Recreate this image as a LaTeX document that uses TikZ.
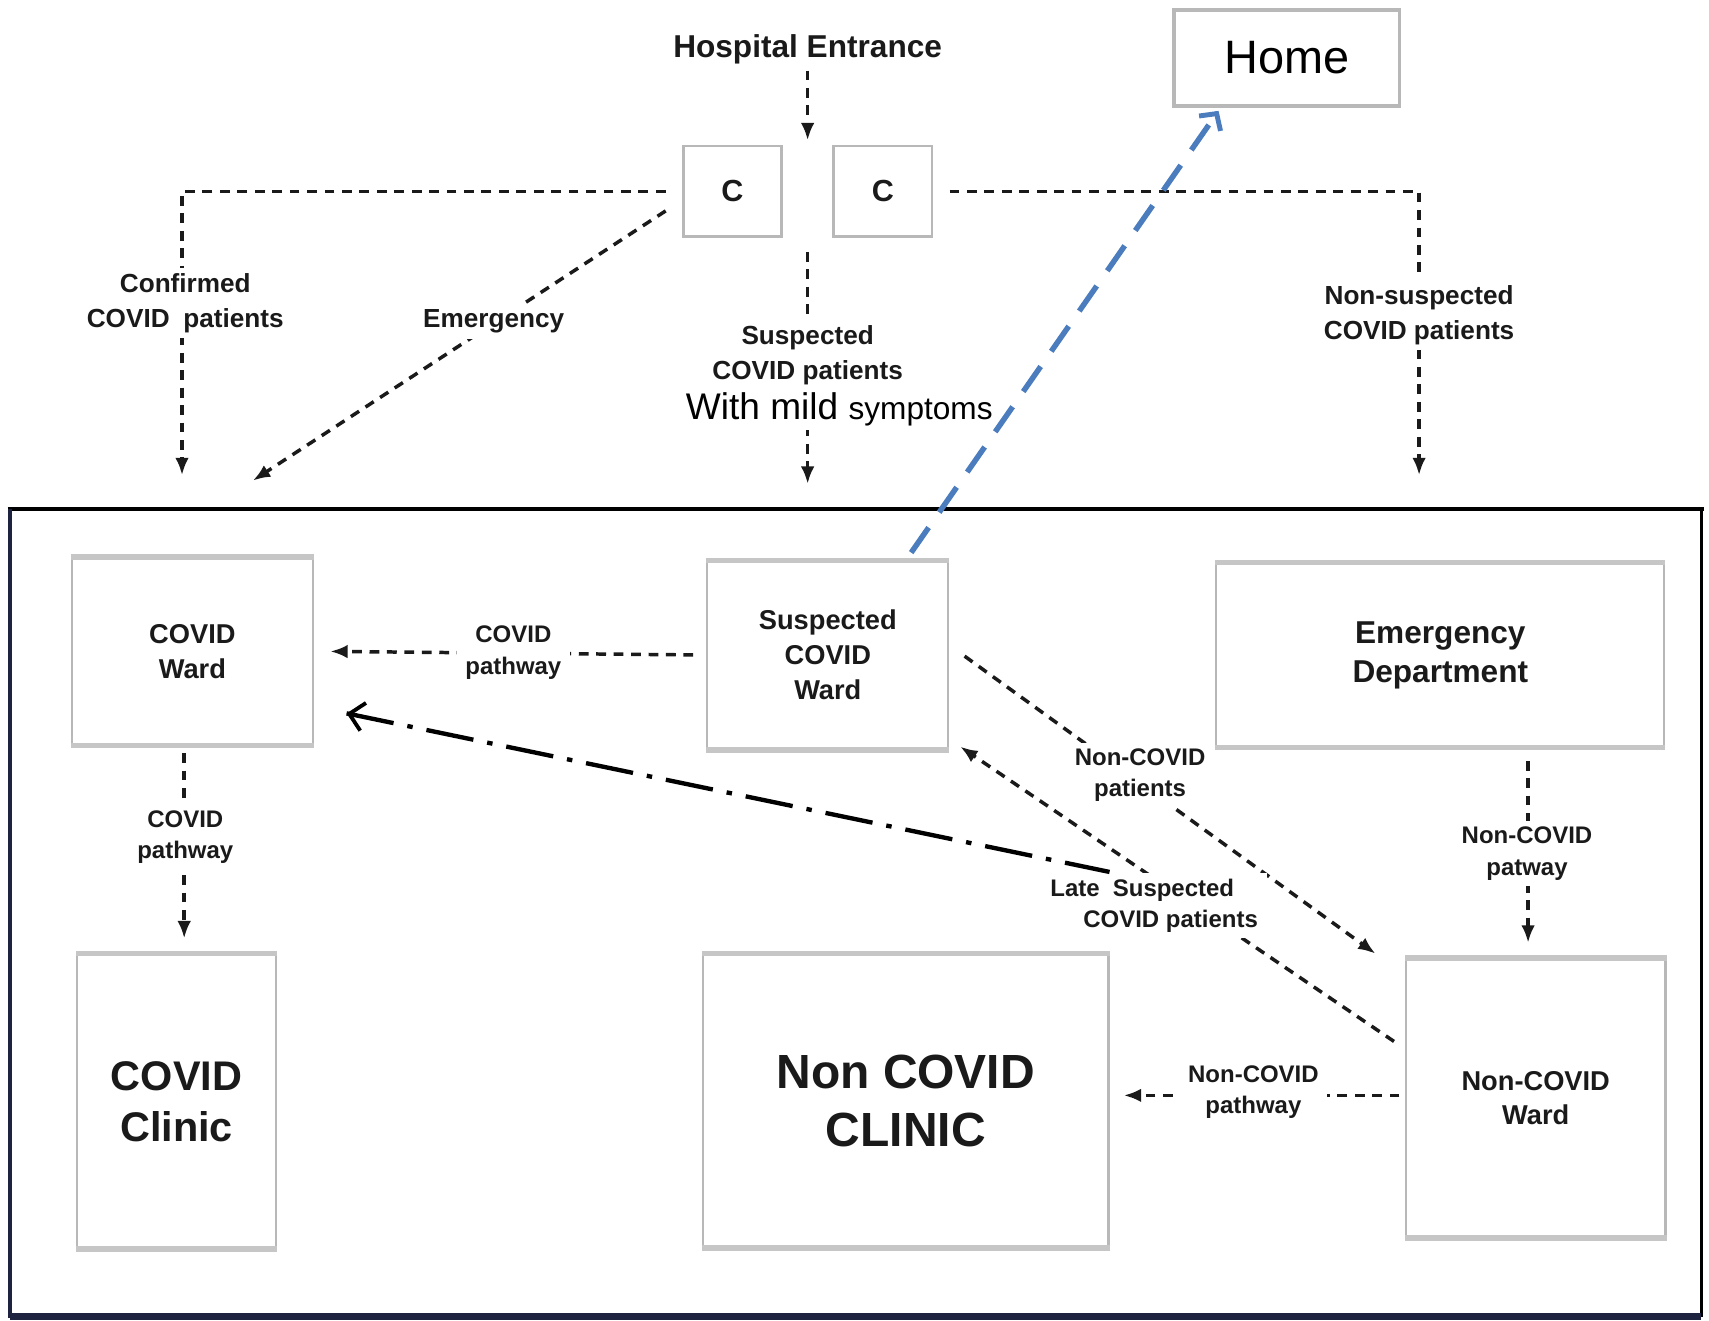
\documentclass[tikz,border=0pt]{standalone}
\usepackage{fontspec}
\setmainfont{Liberation Sans}
\usetikzlibrary{arrows.meta,calc}
\definecolor{txt}{HTML}{1A1A1A}
\definecolor{boxgray}{HTML}{B8B8B8}
\definecolor{edgegray}{HTML}{C6C6C6}
\definecolor{bluearr}{RGB}{74,124,190}
\definecolor{navy}{HTML}{1E2440}
\begin{document}
\begin{tikzpicture}[x=1pt,y=-1pt,
  box/.style={draw=boxgray,line width=2pt,fill=white,text=txt,align=center,
    font=\bfseries\fontsize{25}{32}\selectfont,inner sep=0pt},
  cbox/.style={draw=boxgray,line width=2.5pt,minimum width=90pt,minimum height=83pt,
    text=txt,font=\bfseries\fontsize{28}{32}\selectfont,inner sep=0pt},
  homebox/.style={draw=boxgray,line width=3.5pt,minimum width=207pt,minimum height=88pt,
    text=black,font=\fontsize{43}{48}\selectfont,inner sep=0pt},
  dsh/.style={draw=txt,line width=3.2pt,dash pattern=on 9pt off 7pt,
    -{Latex[length=16pt,width=12.5pt]}},
  lab/.style={fill=white,text=txt,align=center,
    font=\bfseries\fontsize{22}{29}\selectfont,inner xsep=8pt,inner ysep=5pt},
  toplab/.style={lab,font=\bfseries\fontsize{24}{32}\selectfont},
  dashdot/.style={draw=black,line width=4pt,dash pattern=on 44pt off 12.9pt on 5pt off 12.9pt},
  ddtip/.style={draw=black,solid,line width=3.5pt,-{Straight Barb[length=13pt,width=26pt]}},
  bluearrow/.style={draw=bluearr,line width=5pt,dash pattern=on 28pt off 17pt},
  bluetip/.style={draw=bluearr,solid,line width=4.5pt,-{Straight Barb[length=11pt,width=24pt]}}
]
\useasboundingbox (0,0) rectangle (1568,1212);

% hospital frame
\draw[black,line width=4.5pt] (7,467) -- (1563,467);
\draw[black,line width=3pt] (1561,467) -- (1561,1208);
\draw[navy,line width=3.5pt] (9,467) -- (9,1209);
\draw[navy,line width=6pt] (9,1208) -- (1561,1208);

% top nodes
\node[font=\bfseries\fontsize{29}{34}\selectfont,text=txt,inner sep=2pt] (entr) at (741,45) {Hospital Entrance};
\node[cbox] (c1) at (672,175.5) {C};
\node[cbox] (c2) at (810,175.5) {C};
\node[homebox] (home) at (1180.5,53) {Home};

% boxes inside
\node[box,minimum width=221pt,minimum height=171pt] (cward) at (176.5,597.5) {COVID\\Ward};
\node[box,minimum width=221pt,minimum height=172pt] (sward) at (759.5,601) {Suspected\\COVID\\Ward};
\node[box,minimum width=411pt,minimum height=168pt,font=\bfseries\fontsize{29}{36}\selectfont] (ed) at (1321.5,601) {Emergency\\Department};
\node[box,minimum width=182pt,minimum height=269pt,font=\bfseries\fontsize{38}{47}\selectfont] (cclinic) at (162,1010.5) {COVID\\Clinic};
\node[box,minimum width=372pt,minimum height=268pt,font=\bfseries\fontsize{44}{53}\selectfont] (nclinic) at (831,1010) {Non COVID\\CLINIC};
\node[box,minimum width=238pt,minimum height=255pt] (nward) at (1409,1007.5) {Non-COVID\\Ward};
\foreach \n in {cward,sward,ed,cclinic,nclinic,nward}{
  \draw[edgegray,line width=5pt] (\n.north west) -- (\n.north east) (\n.south west) -- (\n.south east);
}

% free ends
\coordinate (t1) at (167,436);
\coordinate (t2) at (741,444);
\coordinate (t3) at (232,441);
\coordinate (t4) at (1302,436);
\coordinate (ddstart) at (1018,800);
\coordinate (ddend) at ([xshift=30pt,yshift=-57pt]cward.east);
\coordinate (bstart) at ([xshift=76.5pt,yshift=7pt]sward.north);
\coordinate (bend) at ([xshift=-62.5pt,yshift=-3pt]home.south);

% top connectors
\draw[dsh,shorten <=4pt,shorten >=4pt] (entr.south) -- ($(c1.north east)!.5!(c2.north west)$);
\draw[dsh] ([xshift=-15pt]c1.west) -| (t1);
\draw[dsh] ([xshift=-15pt,yshift=-18pt]c1.west) -- (t3);
\draw[dsh,shorten <=13pt] ($(c1.south east)!.5!(c2.south west)$) -- (t2);
\draw[dsh] ([xshift=15pt]c2.east) -| (t4);

% inner connectors
\draw[dsh,shorten <=12pt,shorten >=15pt] (sward.west) -- (cward.east);
\draw[dsh,shorten <=7pt,shorten >=14pt] ([xshift=-7.5pt]cward.south) -- ([xshift=7pt]cclinic.north);
\draw[dsh] ([xshift=14pt,yshift=-1pt]sward.east) -- ([xshift=-27pt,yshift=4pt]nward.north west);
\draw[dsh] ([xshift=-10pt,yshift=52pt]nward.west) -- ([xshift=10pt,yshift=3pt]sward.south east);
\draw[dsh,shorten <=12pt,shorten >=14pt] ([xshift=80.5pt]ed.south) -- ([xshift=-7pt]nward.north);
\draw[dsh,shorten <=5pt,shorten >=13pt] ([yshift=2.5pt]nward.west) -- ([yshift=5pt]nclinic.east);

% labels
\node[toplab] (lconf) at (170,278) {Confirmed\\COVID\hspace{6pt} patients};
\node[toplab] (lemerg) at (453,295) {Emergency};
\node[toplab] (lsusp) at (741,326) {Suspected\\COVID patients};
\node[fill=white,text=black,inner sep=3pt] (lmild) at (770,376) {\fontsize{34}{40}\selectfont With mild \fontsize{29}{40}\selectfont symptoms};
\node[toplab] (lnons) at (1302,289) {Non-suspected\\COVID patients};

\node[lab] (lcp1) at (471,599) {COVID\\pathway};
\node[lab] (lcp2) at (170,768) {COVID\\pathway};
\node[lab] (lncp) at (1046,711) {Non-COVID\\patients};
\node[lab] (llate) at (1048,831) {Late\hspace{6pt} Suspected\\\hspace*{52pt}COVID patients};
\node[lab] (lncpw) at (1401,783) {Non-COVID\\patway};
\node[lab] (lncpath) at (1150,1002) {Non-COVID\\pathway};

% dash-dot return arrow
\draw[dashdot] (ddend) -- (ddstart);
\draw[ddtip] ($(ddend)!2pt!(ddstart)$) -- (ddend);

% blue arrow to home
\draw[bluearrow] (bstart) -- (bend);
\draw[bluetip] ($(bend)!2pt!(bstart)$) -- (bend);
\end{tikzpicture}
\end{document}
